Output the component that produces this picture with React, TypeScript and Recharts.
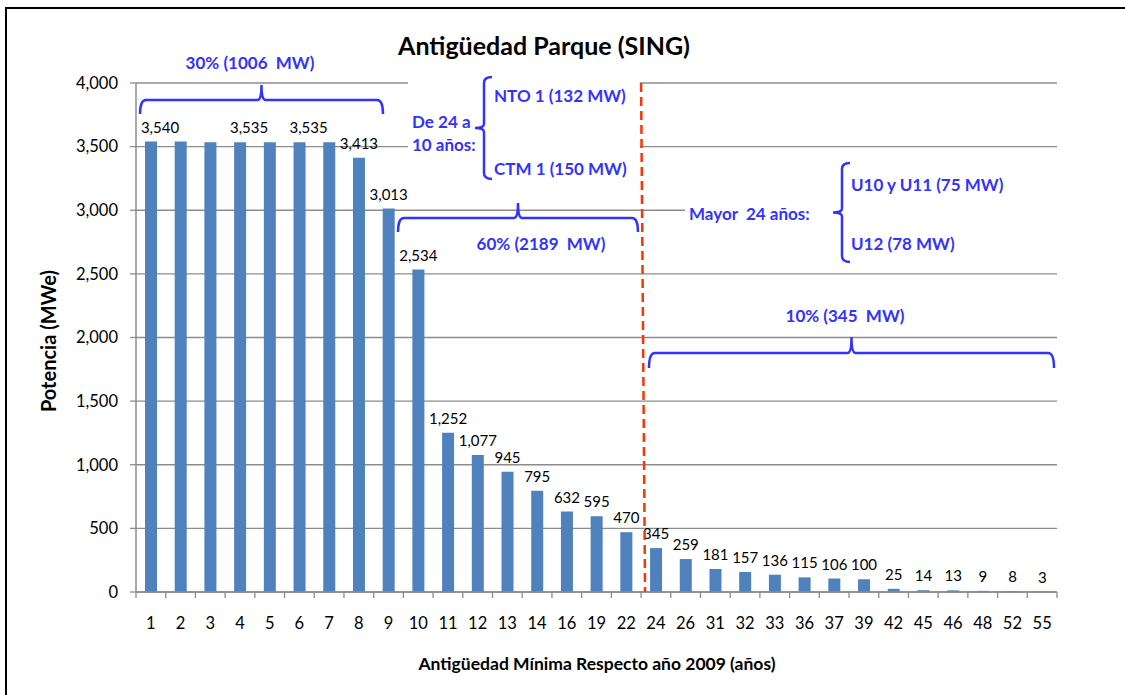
import React from 'react'
import { BarChart, Bar, XAxis, YAxis, CartesianGrid, LabelList } from 'recharts'

const categories = ['1', '2', '3', '4', '5', '6', '7', '8', '9', '10', '11', '12', '13', '14', '16', '19', '22', '24', '26', '31', '32', '33', '36', '37', '39', '42', '45', '46', '48', '52', '55']
const potencia = [3540, 3540, 3535, 3535, 3535, 3535, 3535, 3413, 3013, 2534, 1252, 1077, 945, 795, 632, 595, 470, 345, 259, 181, 157, 136, 115, 106, 100, 25, 14, 13, 9, 8, 3]
const hiddenLabels = [1, 2, 4, 6]
const yTicks = [0, 500, 1000, 1500, 2000, 2500, 3000, 3500, 4000]

const data = categories.map((c, i) => ({ name: c, potencia: potencia[i] }))

const W = 1125
const H = 695
const PLOT_LEFT = 136
const PLOT_RIGHT = 1057
const PLOT_TOP = 83
const PLOT_BOTTOM = 592
const Y_AXIS_W = 60
const X_AXIS_H = 30
const FONT = 'Lato, "Open Sans", sans-serif'
const BLUE = '#3333FF'

const band = (PLOT_RIGHT - PLOT_LEFT) / categories.length

const fmt = (v: number) => v.toLocaleString('en-US')

const BarLabel = (props: any) => {
  const { x, y, width, value, index } = props
  if (hiddenLabels.includes(index)) return null
  const shift = index < 7 ? 9 : 0
  return (
    <text
      x={x + width / 2 + shift}
      y={y - 9}
      textAnchor="middle"
      fontSize={15}
      fontFamily={FONT}
      fill="#000"
    >
      {fmt(value)}
    </text>
  )
}

// horizontal curly brace opening downward
const hBrace = (x1: number, x2: number, y: number, down: number, up: number) => {
  const xm = (x1 + x2) / 2
  return `M ${x1} ${y + down} Q ${x1} ${y} ${x1 + 6} ${y} L ${xm - 4} ${y} Q ${xm} ${y} ${xm} ${y - up} Q ${xm} ${y} ${xm + 4} ${y} L ${x2 - 6} ${y} Q ${x2} ${y} ${x2} ${y + down}`
}

// vertical curly brace opening right
const vBrace = (x: number, y1: number, y2: number) => {
  const ym = (y1 + y2) / 2
  return `M ${x + 8} ${y1} Q ${x} ${y1} ${x} ${y1 + 6} L ${x} ${ym - 4} Q ${x} ${ym} ${x - 9} ${ym} Q ${x} ${ym} ${x} ${ym + 4} L ${x} ${y2 - 6} Q ${x} ${y2} ${x + 8} ${y2}`
}

const Note = ({ x, y, anchor = 'start', children }: { x: number; y: number; anchor?: 'start' | 'middle'; children: string }) => (
  <text x={x} y={y} textAnchor={anchor} xmlSpace="preserve" style={{ whiteSpace: 'pre' }}>
    {children}
  </text>
)

const App = () => {
  const divider = PLOT_LEFT + 17 * band
  return (
    <div style={{ position: 'absolute', left: 0, top: 0, width: W, height: H, background: '#fff', overflow: 'hidden' }}>
      <div style={{ position: 'absolute', left: 0, top: 0 }}>
        <BarChart
          width={W}
          height={H}
          data={data}
          margin={{ top: PLOT_TOP, right: W - PLOT_RIGHT, bottom: H - PLOT_BOTTOM - X_AXIS_H, left: PLOT_LEFT - Y_AXIS_W }}
        >
          <CartesianGrid vertical={false} stroke="#8c8c8c" strokeWidth={1.3} />
          <XAxis
            dataKey="name"
            height={X_AXIS_H}
            tickLine={false}
            tickSize={0}
            tickMargin={25}
            axisLine={{ stroke: '#8c8c8c', strokeWidth: 1.5 }}
            tick={{ fontSize: 16.5, fontFamily: FONT, fill: '#000' }}
            interval={0}
          />
          <YAxis
            width={Y_AXIS_W}
            domain={[0, 4000]}
            ticks={yTicks}
            tickFormatter={fmt}
            tickSize={6}
            tickMargin={12}
            axisLine={{ stroke: '#8c8c8c', strokeWidth: 1.5 }}
            tickLine={{ stroke: '#8c8c8c', strokeWidth: 1.3 }}
            tick={{ fontSize: 16.5, fontFamily: FONT, fill: '#000' }}
          />
          <Bar dataKey="potencia" fill="#4F81BD" barSize={12} isAnimationActive={false}>
            <LabelList dataKey="potencia" content={<BarLabel />} />
          </Bar>
        </BarChart>
      </div>
      <svg width={W} height={H} style={{ position: 'absolute', left: 0, top: 0, pointerEvents: 'none' }}>
        {/* outer chart frame, only left and top edges fall inside the picture */}
        <path d={`M 6 ${H} L 6 8 L ${W} 8`} fill="none" stroke="#000" strokeWidth={2} />

        {/* boxes hiding gridlines behind annotations */}
        <rect x={408} y={72} width={divider - 408 - 1} height={114} fill="#fff" />
        <rect x={685} y={160} width={PLOT_RIGHT - 685 + 2} height={106} fill="#fff" />

        {categories.map((_, i) => (
          <line key={i} x1={PLOT_LEFT + i * band} x2={PLOT_LEFT + i * band} y1={PLOT_BOTTOM} y2={PLOT_BOTTOM + 6} stroke="#8c8c8c" strokeWidth={1.3} />
        ))}
        <line x1={PLOT_RIGHT} x2={PLOT_RIGHT} y1={PLOT_BOTTOM} y2={PLOT_BOTTOM + 6} stroke="#8c8c8c" strokeWidth={1.3} />

        <line x1={divider} y1={PLOT_TOP} x2={divider + 4} y2={PLOT_BOTTOM} stroke="#FF3300" strokeWidth={2.5} strokeDasharray="9 5" />

        <text x={544} y={45} textAnchor="middle" dominantBaseline="central" fontFamily={FONT} fontWeight="bold" fontSize={25} fill="#000">
          Antigüedad Parque (SING)
        </text>
        <text x={48} y={341} transform="rotate(-90 48 341)" textAnchor="middle" dominantBaseline="central" fontFamily={FONT} fontWeight="bold" fontSize={20} fill="#000">
          Potencia (MWe)
        </text>
        <text x={597} y={663} textAnchor="middle" dominantBaseline="central" fontFamily={FONT} fontWeight="bold" fontSize={17.5} fill="#000">
          Antigüedad Mínima Respecto año 2009 (años)
        </text>

        <g fill="none" stroke={BLUE} strokeWidth={2.5}>
          <path d={hBrace(140, 383, 100, 14, 15)} />
          <path d={hBrace(398, 638, 218, 14, 15)} />
          <path d={hBrace(649, 1054, 353, 15, 16)} />
          <path d={vBrace(484, 77, 179)} />
          <path d={vBrace(842, 163, 262)} />
        </g>

        <g fontFamily={FONT} fontWeight="bold" fontSize={17} fill={BLUE} dominantBaseline="central">
          <Note x={250} y={62} anchor="middle">30% (1006  MW)</Note>
          <Note x={412} y={121}>De 24 a</Note>
          <Note x={412} y={144}>10 años:</Note>
          <Note x={494} y={95}>NTO 1 (132 MW)</Note>
          <Note x={494} y={168}>CTM 1 (150 MW)</Note>
          <Note x={541} y={243} anchor="middle">60% (2189  MW)</Note>
          <Note x={689} y={213}>Mayor  24 años:</Note>
          <Note x={851} y={184}>U10 y U11 (75 MW)</Note>
          <Note x={851} y={243}>U12 (78 MW)</Note>
          <Note x={845} y={315} anchor="middle">10% (345  MW)</Note>
        </g>
      </svg>
    </div>
  )
}

export default App
